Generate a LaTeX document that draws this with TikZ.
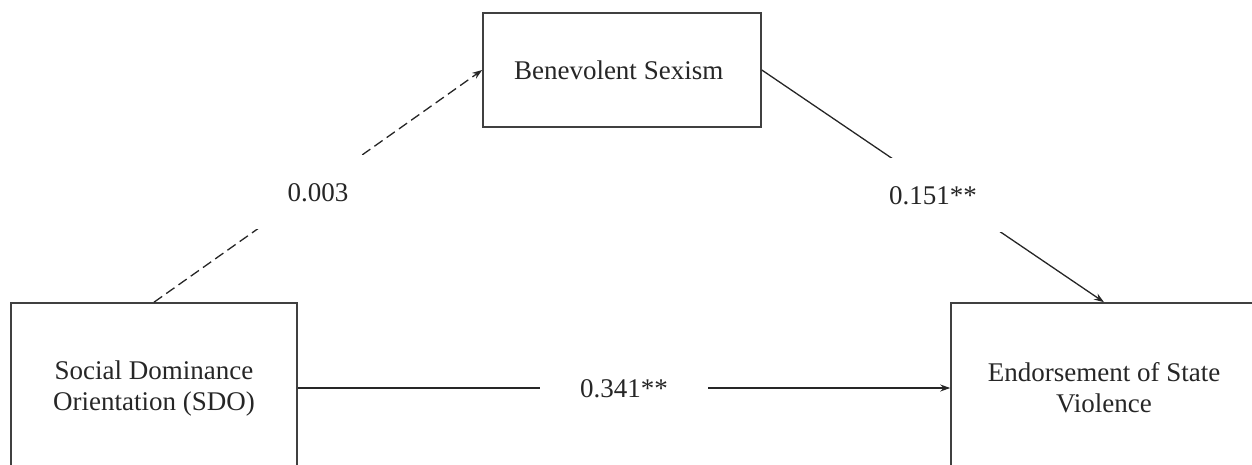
\documentclass[tikz,border=0pt]{standalone}
\usepackage{fontspec}
\setmainfont{Liberation Serif}
\usepackage{tikz}
\usetikzlibrary{positioning}
\usetikzlibrary{arrows.meta}

\begin{document}
\begin{tikzpicture}[x=1pt, y=-1pt]
			\tikzset{
				var/.style={rectangle, draw=black!75, line width=1.6pt, align=center, text=black!85, font=\fontsize{27}{31}\selectfont},
				path/.style={draw=black!85, line width=1.3pt, -{Stealth[length=10pt, width=7pt]}},
				coef/.style={fill=white, text=black!85, inner xsep=40pt, inner ysep=28pt, text height=18pt, text depth=0pt, font=\fontsize{27}{31}\selectfont}
			}
			\clip (0,0) rectangle (1252,464);

			% predictor
			\node[var, minimum width=286pt, minimum height=170pt] (sdo) at (154,388) {
				Social Dominance\\
				Orientation (SDO)
			};

			% mediator
			\node[var, minimum width=278pt, minimum height=114pt] (bs) at (622,70) {
				Benevolent Sexism
			};

			% outcome
			\node[var, minimum width=306pt, minimum height=170pt] (esv) at (1104,388) {
				Endorsement of State\\
				Violence
			};

			% paths
			\draw[path, dashed, dash pattern=on 10pt off 5pt] (sdo.north) -- node[coef, yshift=-6pt] {0.003} (bs.west);
			\draw[path] (bs.east) -- node[coef, yshift=-9pt] {0.151**} (esv.north);
			\draw[path] (sdo.east) -- node[coef] {0.341**} (esv.west);
		\end{tikzpicture}
\end{document}
